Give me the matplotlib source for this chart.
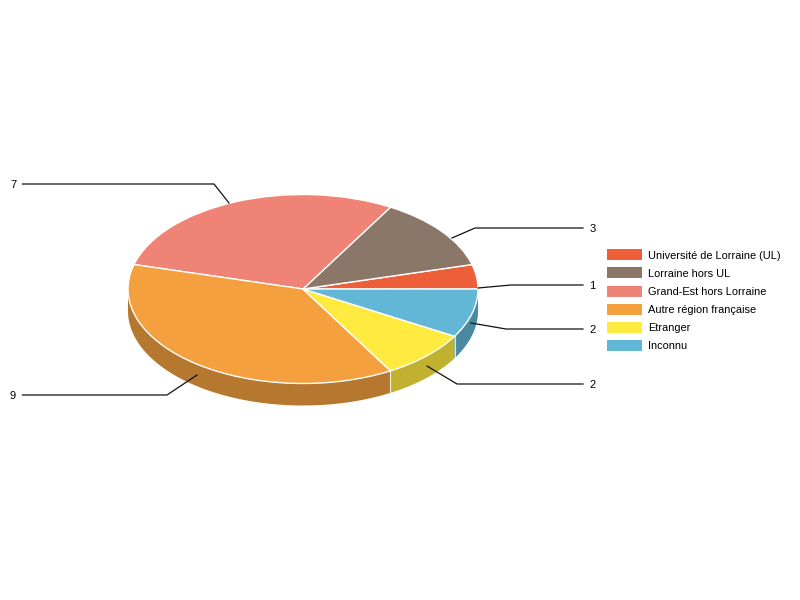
import numpy as np
import matplotlib
matplotlib.use("Agg")
import matplotlib.pyplot as plt

categories = ["Université de Lorraine (UL)", "Lorraine hors UL", "Grand-Est hors Lorraine",
              "Autre région française", "Etranger", "Inconnu"]
values = [1, 3, 7, 9, 2, 2]
colors = ["#EC5F38", "#8A7768", "#EF8375", "#F5A03F", "#FFEB3F", "#62B7D6"]
side_colors = ["#B5472C", "#6A5B4F", "#B5645A", "#B6772F", "#C0B12F", "#4A8AA1"]

CX, CY, RX, RY, DEPTH = 303, 289, 175, 94.5, 22

plt.rcParams["font.family"] = ["Liberation Sans", "DejaVu Sans"]
fig = plt.figure(figsize=(8, 6), dpi=100)
ax = fig.add_axes([0, 0, 1, 1])
wedges, _ = ax.pie(values, colors=colors, startangle=0, counterclock=True, radius=1,
                   wedgeprops=dict(edgecolor="white", linewidth=1, zorder=5))
ax.set_aspect("auto")
ax.set_xlim(-CX / RX, (800 - CX) / RX)
ax.set_ylim(-(600 - CY) / RY, CY / RY)
ax.axis("off")

# side wall, drawn from the same wedge angles
dy = DEPTH / RY
for w, c in zip(wedges, side_colors):
    t1, t2 = w.theta1, w.theta2
    a = max(t1, 180)
    b = min(t2, 360)
    if b <= a:
        continue
    th = np.radians(np.linspace(a, b, 80))
    xs = np.r_[np.cos(th), np.cos(th[::-1])]
    ys = np.r_[np.sin(th), np.sin(th[::-1]) - dy]
    ax.fill(xs, ys, facecolor=c, edgecolor="none", zorder=2)
    if a > 180:
        ax.plot([np.cos(th[0])] * 2, [np.sin(th[0]), np.sin(th[0]) - dy],
                color="white", lw=0.8, alpha=0.8, zorder=3)

# legend and leaders in pixel coordinates
px = fig.transFigure
def P(x, y):
    return x / 800, 1 - y / 600

leaders = [
    ("1", [(478, 288), (511, 285), (583, 285)]),
    ("3", [(452, 238), (475, 228), (583, 228)]),
    ("7", [(229, 203), (214, 184), (22.5, 184)]),
    ("9", [(197, 375), (167, 395), (22.5, 395)]),
    ("2", [(427, 366), (457, 384), (583, 384)]),
    ("2", [(471, 323), (506, 329), (583, 329)]),
]
for lab, pts in leaders:
    xy = [P(*p) for p in pts]
    fig.add_artist(plt.Line2D([p[0] for p in xy], [p[1] for p in xy], color="#111111", lw=0.9, transform=px))
    lx = 589.5 if pts[-1][0] > 300 else 10
    x, y = P(lx, pts[-1][1] + 1)
    fig.text(x, y, lab, fontsize=8, va="center", ha="left", color="black")

for i, (name, c) in enumerate(zip(categories, colors)):
    top = 249.5 + i * 18
    x, y = P(607, top + 11)
    fig.add_artist(plt.Rectangle((x, y), 35 / 800, 11 / 600, facecolor=c, edgecolor="none", transform=px))
    x, y = P(648, top + 6.5)
    fig.text(x, y, name, fontsize=7.92, va="center", ha="left", color="black")

fig.savefig("out.png", dpi=100)
